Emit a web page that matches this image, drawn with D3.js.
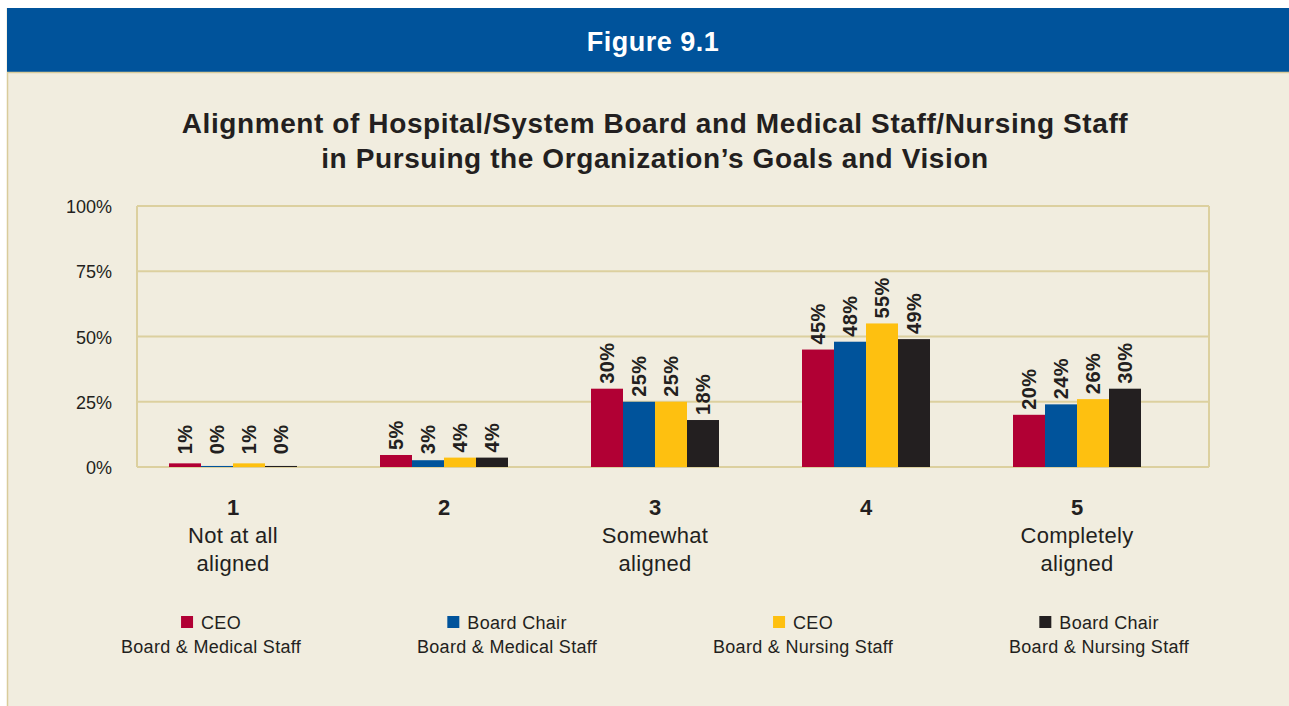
<!DOCTYPE html>
<html>
<head>
<meta charset="utf-8">
<script src="https://cdn.jsdelivr.net/npm/d3@7"></script>
<style>
  body { margin: 0; background: #fff; }
  svg { display: block; font-family: "Liberation Sans", Arial, Helvetica, sans-serif; }
</style>
</head>
<body>
<div id="graphic"></div>
<script>
// categories on the x axis (number + words underneath)
const categories = ['1', '2', '3', '4', '5']
const categoryNotes = [['Not at all', 'aligned'], [], ['Somewhat', 'aligned'], [], ['Completely', 'aligned']]

// series names, legend lines and colours
const seriesKeys = ['ceoMed', 'chairMed', 'ceoNurse', 'chairNurse']
const seriesNames = ['CEO', 'Board Chair', 'CEO', 'Board Chair']
const seriesSubs = ['Board & Medical Staff', 'Board & Medical Staff', 'Board & Nursing Staff', 'Board & Nursing Staff']
const seriesColors = ['#b10034', '#00539b', '#fec010', '#231f20']

// percent values, one per category
const ceoMed = [1.4, 4.6, 30, 45, 20]
const chairMed = [0.4, 2.6, 25, 48, 24]
const ceoNurse = [1.4, 3.6, 25, 55, 26]
const chairNurse = [0.4, 3.6, 18, 49, 30]

const yTicks = [0, 25, 50, 75, 100]

;(function () {
  var width = 1289
  var height = 706

  var svg = d3.select('#graphic').append('svg')
    .attr('width', width)
    .attr('height', height)

  // panel + header
  svg.append('rect').attr('x', 7).attr('y', 8).attr('width', width - 7).attr('height', height - 8)
    .attr('fill', '#f1eddf')
  svg.append('line').attr('x1', 7.5).attr('x2', 7.5).attr('y1', 8).attr('y2', height)
    .attr('stroke', '#d9cc9b').attr('stroke-width', 1.5)
  svg.append('rect').attr('x', 7).attr('y', 8).attr('width', width - 7).attr('height', 64)
    .attr('fill', '#00539b')
  svg.append('line').attr('x1', 7).attr('x2', width).attr('y1', 72.5).attr('y2', 72.5)
    .attr('stroke', '#d9cc9b').attr('stroke-width', 1.5)

  svg.append('text').attr('x', 653).attr('y', 51)
    .attr('text-anchor', 'middle').attr('fill', '#fff')
    .attr('font-size', 27).attr('font-weight', 'bold').attr('letter-spacing', 0.5)
    .text('Figure 9.1')

  var title = ['Alignment of Hospital/System Board and Medical Staff/Nursing Staff',
    'in Pursuing the Organization\u2019s Goals and Vision']
  svg.append('g').selectAll('text').data(title).enter().append('text')
    .attr('x', 655).attr('y', (d, i) => 133 + i * 35)
    .attr('text-anchor', 'middle').attr('fill', '#231f20')
    .attr('font-size', 28).attr('font-weight', 'bold').attr('letter-spacing', 0.6)
    .text(d => d)

  // plot
  var plot = { left: 137, right: 1209, top: 206, bottom: 467 }

  var y = d3.scaleLinear().domain([0, 100]).range([plot.bottom, plot.top])
  var x = d3.scaleBand().domain(categories).range([127.5, 1182.5]).paddingInner(0).paddingOuter(0)
  var xInner = d3.scaleBand().domain(seriesKeys).range([0, 128])

  var grid = svg.append('g')
  grid.selectAll('line').data(yTicks).enter().append('line')
    .attr('x1', plot.left).attr('x2', plot.right)
    .attr('y1', d => y(d)).attr('y2', d => y(d))
    .attr('stroke', '#dcd09f').attr('stroke-width', 2)
  grid.append('line').attr('x1', plot.left).attr('x2', plot.left)
    .attr('y1', plot.top).attr('y2', plot.bottom)
    .attr('stroke', '#dcd09f').attr('stroke-width', 2)
  grid.append('line').attr('x1', plot.right).attr('x2', plot.right)
    .attr('y1', plot.top).attr('y2', plot.bottom)
    .attr('stroke', '#dcd09f').attr('stroke-width', 2)

  svg.append('g').selectAll('text').data(yTicks).enter().append('text')
    .attr('x', 112).attr('y', d => y(d) + 7)
    .attr('text-anchor', 'end').attr('fill', '#231f20').attr('font-size', 18)
    .text(d => d + '%')

  var seriesValues = [ceoMed, chairMed, ceoNurse, chairNurse]

  var rows = []
  categories.forEach((c, ci) => {
    seriesKeys.forEach((k, si) => {
      rows.push({ cat: c, key: k, color: seriesColors[si], value: seriesValues[si][ci] })
    })
  })

  var groupLeft = c => x(c) + (x.bandwidth() - 128) / 2

  svg.append('g').selectAll('rect').data(rows).enter().append('rect')
    .attr('x', d => groupLeft(d.cat) + xInner(d.key))
    .attr('width', xInner.bandwidth())
    .attr('y', d => y(d.value))
    .attr('height', d => y(0) - y(d.value))
    .attr('fill', d => d.color)

  svg.append('g').selectAll('text').data(rows).enter().append('text')
    .attr('transform', d => {
      var cx = groupLeft(d.cat) + xInner(d.key) + xInner.bandwidth() / 2 + 7
      var cy = Math.min(y(d.value), y(3)) - 5
      return 'translate(' + cx + ',' + cy + ') rotate(-90)'
    })
    .attr('fill', '#231f20').attr('font-size', 20).attr('font-weight', 'bold').attr('letter-spacing', 0.4)
    .text(d => Math.round(d.value) + '%')

  // category labels
  var catG = svg.append('g').selectAll('g').data(categories).enter().append('g')
    .attr('transform', d => 'translate(' + (x(d) + x.bandwidth() / 2) + ',0)')
  catG.append('text').attr('y', 515).attr('text-anchor', 'middle')
    .attr('fill', '#231f20').attr('font-size', 22).attr('font-weight', 'bold')
    .text(d => d)
  catG.selectAll('text.note').data((d, i) => categoryNotes[i]).enter().append('text')
    .attr('class', 'note')
    .attr('y', (d, i) => 543 + i * 28).attr('text-anchor', 'middle')
    .attr('fill', '#231f20').attr('font-size', 22).attr('letter-spacing', 0.3)
    .text(d => d)

  // legend
  var legend = svg.append('g').selectAll('g').data(seriesKeys).enter().append('g')
    .attr('transform', (d, i) => 'translate(' + (211 + i * 296) + ',0)')
  legend.each(function (d, i) {
    var g = d3.select(this)
    var t = g.append('text').attr('y', 629).attr('fill', '#231f20')
      .attr('font-size', 18).attr('letter-spacing', 0.3)
      .text(seriesNames[i])
    var tw = t.node().getComputedTextLength()
    var total = 12 + 8 + tw
    g.append('rect').attr('x', -total / 2).attr('y', 616).attr('width', 12).attr('height', 12)
      .attr('fill', seriesColors[i])
    t.attr('x', -total / 2 + 20)
    g.append('text').attr('y', 653).attr('text-anchor', 'middle')
      .attr('fill', '#231f20').attr('font-size', 18).attr('letter-spacing', 0.3)
      .text(seriesSubs[i])
  })
})()
</script>
</body>
</html>
